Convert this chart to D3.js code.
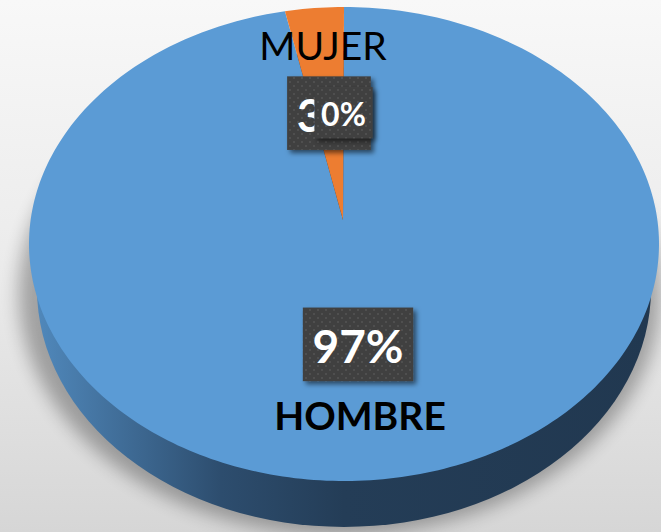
<!DOCTYPE html>
<html>
<head>
<meta charset="utf-8">
<script src="https://cdn.jsdelivr.net/npm/d3@7"></script>
<style>
  html, body { margin: 0; padding: 0; background: #eee; }
  svg { display: block; }
</style>
</head>
<body>
<div id="app"></div>
<script>
const categories = ["HOMBRE", "MUJER", ""]
const values = [97, 3, 0]

const width = 661
const height = 532

// top face ellipse, bottom (side) ellipse and the perspective apex
const top_c = {x: 344, y: 244, rx: 315, ry: 237}
const bot_c = {x: 344, y: 289, rx: 307, ry: 238}
const apex = {x: 343, y: 220}

const color = d3.scaleOrdinal()
   .domain(categories)
   .range(["#5b9bd5", "#ed7d31", "#a5a5a5"])

const total = d3.sum(values)
const fmt = d3.format(".0%")

const rim = a => [top_c.x + top_c.rx * Math.sin(a), top_c.y - top_c.ry * Math.cos(a)]

const slice_path = d => {
   let n = Math.max(2, Math.ceil((d.endAngle - d.startAngle) / 0.02))
   let pts = [[apex.x, apex.y]]
   d3.range(n + 1).forEach(i => {
      pts.push(rim(d.startAngle + (d.endAngle - d.startAngle) * i / n))
   })
   return d3.line()(pts) + "Z"
}

const svg = d3.select("#app")
   .append("svg")
   .attr("width", width)
   .attr("height", height)

const defs = svg.append("defs")

let bg = defs.append("linearGradient").attr("id", "bg")
   .attr("x1", 0).attr("y1", 0).attr("x2", 0).attr("y2", 1)
bg.append("stop").attr("offset", 0).attr("stop-color", "#f8f8f8")
bg.append("stop").attr("offset", 0.5).attr("stop-color", "#ebebeb")
bg.append("stop").attr("offset", 1).attr("stop-color", "#d6d6d6")

let side = defs.append("linearGradient").attr("id", "side")
   .attr("gradientUnits", "userSpaceOnUse")
   .attr("x1", 37).attr("y1", 0).attr("x2", 651).attr("y2", 0)
side.append("stop").attr("offset", 0).attr("stop-color", "#5088bb")
side.append("stop").attr("offset", 0.3).attr("stop-color", "#2d4d6e")
side.append("stop").attr("offset", 0.5).attr("stop-color", "#243d57")
side.append("stop").attr("offset", 1).attr("stop-color", "#213850")

defs.append("filter").attr("id", "blur")
   .attr("x", "-20%").attr("y", "-20%").attr("width", "140%").attr("height", "140%")
   .append("feGaussianBlur").attr("stdDeviation", 9)

defs.append("filter").attr("id", "boxshadow")
   .attr("x", "-30%").attr("y", "-30%").attr("width", "160%").attr("height", "160%")
   .append("feDropShadow")
   .attr("dx", 3).attr("dy", 3).attr("stdDeviation", 2.5)
   .attr("flood-color", "#000").attr("flood-opacity", 0.55)

let pat = defs.append("pattern").attr("id", "dots")
   .attr("patternUnits", "userSpaceOnUse")
   .attr("width", 8).attr("height", 8)
pat.append("rect").attr("width", 8).attr("height", 8).attr("fill", "#404040")
pat.append("circle").attr("cx", 2).attr("cy", 2).attr("r", 1.1).attr("fill", "#525252")
pat.append("circle").attr("cx", 6).attr("cy", 6).attr("r", 1.1).attr("fill", "#525252")

svg.append("rect")
   .attr("width", width)
   .attr("height", height)
   .attr("fill", "url(#bg)")

// soft shadow under the pie
svg.append("ellipse")
   .attr("cx", bot_c.x - 4)
   .attr("cy", bot_c.y + 4)
   .attr("rx", top_c.rx + 6)
   .attr("ry", bot_c.ry + 4)
   .attr("fill", "#000")
   .attr("opacity", 0.3)
   .attr("filter", "url(#blur)")

// side of the pie
svg.append("ellipse")
   .attr("cx", bot_c.x)
   .attr("cy", bot_c.y)
   .attr("rx", bot_c.rx)
   .attr("ry", bot_c.ry)
   .attr("fill", "url(#side)")

const arcs = d3.pie().sort(null).value(d => d)(values)

svg.append("g")
   .selectAll("path")
   .data(arcs)
   .join("path")
   .attr("d", slice_path)
   .attr("fill", (d, i) => color(categories[i]))

// labels
const label_pos = d => {
   let mid = (d.startAngle + d.endAngle) / 2
   let r = rim(mid)
   let k = 0.49
   return [apex.x + k * (r[0] - apex.x), apex.y + k * (r[1] - apex.y) - 3, mid]
}

const labels = svg.append("g")
   .selectAll("g")
   .data(arcs)
   .join("g")
   .each(function (d, i) {
      let g = d3.select(this)
      let [x, y, mid] = label_pos(d)
      let fs = d.value === 0 ? 32 : 46
      let box = g.append("rect").attr("fill", "url(#dots)").attr("filter", "url(#boxshadow)")
      let t = g.append("text")
         .attr("x", x)
         .attr("y", y + 0.41 * fs)
         .attr("text-anchor", "middle")
         .attr("font-family", "Lato, 'Open Sans', sans-serif")
         .attr("font-weight", "bold")
         .attr("font-size", fs + "px")
         .attr("fill", "#fff")
         .text(fmt(d.value / total))
      let tw = t.node().getComputedTextLength()
      let pad = 0.21 * fs
      let bh = 1.6 * fs
      box.attr("x", x - tw / 2 - pad)
         .attr("y", y - bh / 2)
         .attr("width", tw + 2 * pad)
         .attr("height", bh)

      if (categories[i]) {
         let above = Math.cos(mid) > 0
         svg.append("text")
            .attr("x", x - (above ? 6 : -2))
            .attr("y", above ? y - 53 : y + 86)
            .attr("text-anchor", "middle")
            .attr("font-family", "Lato, 'Open Sans', sans-serif")
            .attr("font-weight", above ? "normal" : "bold")
            .attr("font-size", "39px")
            .attr("fill", "#000")
            .text(categories[i])
      }
   })
</script>
</body>
</html>
